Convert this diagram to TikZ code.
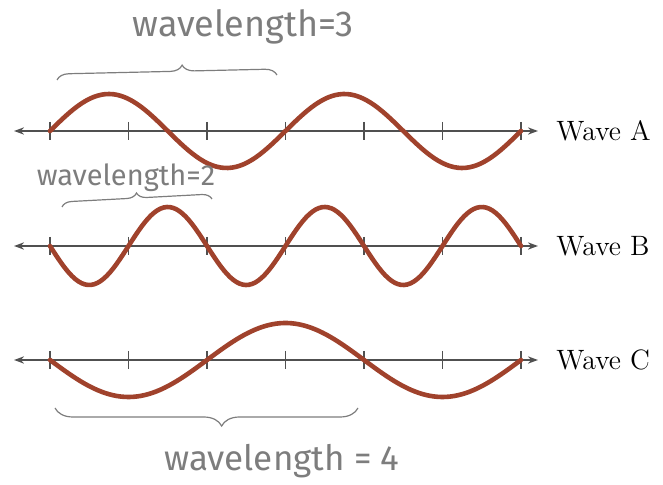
\documentclass[tikz,border=0pt]{standalone}
\usepackage{fontspec}
\usepackage{tikz}
\usetikzlibrary{positioning}
\usetikzlibrary{calc}
\usetikzlibrary{arrows.meta}
\usetikzlibrary{decorations.pathreplacing}
\newfontfamily\handfont{Fira Sans}
\definecolor{wavered}{RGB}{160,66,44}
\definecolor{axisgray}{RGB}{80,80,80}
\definecolor{pencil}{RGB}{125,125,125}
\tikzset{
    axisline/.style={axisgray, line width=1pt, {Stealth[length=5pt,width=3.6pt]}-{Stealth[length=5pt,width=3.6pt]}},
    tickmark/.style={axisgray, line width=0.7pt},
    waveline/.style={wavered, line width=2.3pt, line cap=round},
    wavelabel/.style={inner sep=0pt, font=\fontsize{14}{16}\selectfont},
    handbrace/.style={pencil, line width=0.6pt, decorate, decoration={brace, amplitude=#1}},
    handnote/.style={pencil, inner sep=0pt},
}

\begin{document}
\begin{tikzpicture}[x=0.5pt, y=-0.5pt]
    \useasboundingbox (0,0) rectangle (663,485);

    % axes with ticks and labels
    \foreach \name/\ypos in {A/131, B/246, C/360} {
        \coordinate (\name left) at (14,\ypos);
        \coordinate (\name right) at (538,\ypos);
        \draw[axisline] (\name left) -- (\name right);
        \foreach \i in {0,...,6}
            \draw[tickmark] (50+78.5*\i,\ypos-9) -- ++(0,18);
        \node[wavelabel, right=9pt of \name right] (label\name) {Wave \name};
    }

    % waves
    \draw[waveline] plot[domain=50:521, samples=120] (\x, {131-37*sin((\x-50)/235.5*360)});
    \draw[waveline] plot[domain=50:521, samples=150] (\x, {246+39*sin((\x-50)/157*360)});
    \draw[waveline] plot[domain=50:521, samples=120] (\x, {360+37*sin((\x-50)/314*360)});

    % braces and notes
    \coordinate (braceAstart) at (57,80);
    \coordinate (braceAend) at (277,75);
    \draw[handbrace=6pt, decoration={aspect=0.57}] (braceAstart) -- (braceAend);
    \node[handnote, font=\handfont\fontsize{18}{20}\selectfont] (noteA) at (243,27) {wavelength=3};

    \coordinate (braceBstart) at (62,207);
    \coordinate (braceBend) at (212,199);
    \draw[handbrace=5pt, decoration={aspect=0.5}] (braceBstart) -- (braceBend);
    \node[handnote, font=\handfont\fontsize{14.5}{16}\selectfont] (noteB) at (126,178) {wavelength=2};

    \coordinate (braceCstart) at (358,408);
    \coordinate (braceCend) at (55,408);
    \draw[handbrace=9pt, decoration={aspect=0.45}] (braceCstart) -- (braceCend);
    \node[handnote, font=\handfont\fontsize{17.5}{20}\selectfont] (noteC) at (282,461) {wavelength = 4};
\end{tikzpicture}
\end{document}
